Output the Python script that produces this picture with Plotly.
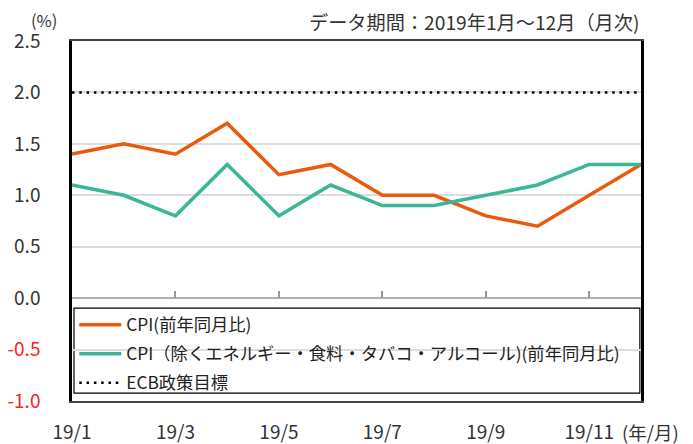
import plotly.graph_objects as go

months = ["19/1", "19/2", "19/3", "19/4", "19/5", "19/6",
          "19/7", "19/8", "19/9", "19/10", "19/11", "19/12"]
cpi = [1.4, 1.5, 1.4, 1.7, 1.2, 1.3, 1.0, 1.0, 0.8, 0.7, 1.0, 1.3]
core = [1.1, 1.0, 0.8, 1.3, 0.8, 1.1, 0.9, 0.9, 1.0, 1.1, 1.3, 1.3]
ecb_target = [2.0] * len(months)

series_names = ["CPI(前年同月比)",
                "CPI（除くエネルギー・食料・タバコ・アルコール)(前年同月比)",
                "ECB政策目標"]
y_ticks = [-1.0, -0.5, 0.0, 0.5, 1.0, 1.5, 2.0, 2.5]
x_tick_labels = months[::2]
inner_tick_labels = months[2::2]

FONT = "Noto Sans CJK JP, Noto Sans, sans-serif"
ORANGE = "#EA5A0C"
TEAL = "#3BB696"

fig = go.Figure()
fig.add_trace(go.Scatter(x=months, y=cpi, mode="lines", name=series_names[0],
                         line=dict(color=ORANGE, width=3.5), legendgroup="a"))
fig.add_trace(go.Scatter(x=months, y=core, mode="lines", name=series_names[1],
                         line=dict(color=TEAL, width=3.5), legendgroup="b"))
fig.add_trace(go.Scatter(x=months, y=ecb_target, mode="lines", name=series_names[2],
                         line=dict(color="black", width=2.5, dash="2.5px,4.8px"),
                         legendgroup="c"))
# invisible helper on secondary axis to draw the inner ticks along y=0
fig.add_trace(go.Scatter(x=months, y=ecb_target, xaxis="x2", mode="lines",
                         line=dict(color="rgba(0,0,0,0)", width=0),
                         showlegend=False, hoverinfo="skip"))

ticktext = [
    (f"<span style='color:#FF2020'>{v:.1f}</span>" if v < 0 else f"{v:.1f}")
    for v in y_ticks
]

# page body has an 8px margin, so the figure is sized to the visible area
fig.update_layout(
    width=685, height=436,
    margin=dict(l=64, r=52, t=33, b=43, autoexpand=False),
    paper_bgcolor="white", plot_bgcolor="white",
    font=dict(family=FONT, size=19, color="#333333"),
    showlegend=True,
    legend=dict(x=0.004, y=0.0, xanchor="left", yanchor="bottom",
                bgcolor="rgba(0,0,0,0)", borderwidth=0, itemwidth=42,
                font=dict(size=17.3, color="#222222"),
                traceorder="grouped", tracegroupgap=3.5),
    xaxis=dict(type="category", categoryorder="array", categoryarray=months,
               range=[0, len(months) - 1], automargin=False,
               tickvals=x_tick_labels, ticktext=x_tick_labels,
               ticks="", ticklabelstandoff=13,
               showgrid=False, showline=True, linecolor="#444444", linewidth=2,
               mirror=True, tickfont=dict(size=19, color="#333333")),
    xaxis2=dict(overlaying="x", anchor="free", position=1 / 3.5,
                type="category", categoryorder="array", categoryarray=months,
                range=[0, len(months) - 1], automargin=False,
                tickvals=inner_tick_labels, ticks="inside", ticklen=7,
                tickcolor="#999999", tickwidth=1.5, showticklabels=False,
                showgrid=False, showline=False, zeroline=False),
    yaxis=dict(range=[-1.0, 2.5], tickvals=y_ticks, ticktext=ticktext,
               ticks="", ticklabelstandoff=25, automargin=False,
               showgrid=True, gridcolor="#DDDDDD", gridwidth=2,
               zeroline=True, zerolinecolor="#B0B0B0", zerolinewidth=2,
               showline=True, linecolor="black", linewidth=2.5, mirror=True,
               tickfont=dict(size=19, color="#333333")),
)

# legend frame
fig.add_shape(type="rect", xref="paper", yref="paper", layer="between",
              x0=0.0035, x1=0.998, y0=0.022, y1=0.258,
              fillcolor="white", line=dict(color="black", width=1.2))

fig.add_shape(type="line", xref="paper", yref="paper",
              x0=-0.095, x1=1.0545, y0=1.106, y1=1.106,
              line=dict(color="#66BB8F", width=3.5))

fig.add_annotation(text="(%)", xref="paper", yref="paper",
                   x=-0.05, y=1.057, xanchor="center", yanchor="middle",
                   showarrow=False, font=dict(size=16.5, color="#333333"))
fig.add_annotation(text="データ期間：2019年1月～12月（月次)", xref="paper", yref="paper",
                   x=1.0, y=1.052, xanchor="right", yanchor="middle",
                   showarrow=False, font=dict(size=19.2, color="#333333"))
fig.add_annotation(text="(年/月)", xref="paper", yref="paper",
                   x=0.963, y=-0.087, xanchor="left", yanchor="middle",
                   showarrow=False, font=dict(size=18.5, color="#333333"))

fig.write_html("out.html")
